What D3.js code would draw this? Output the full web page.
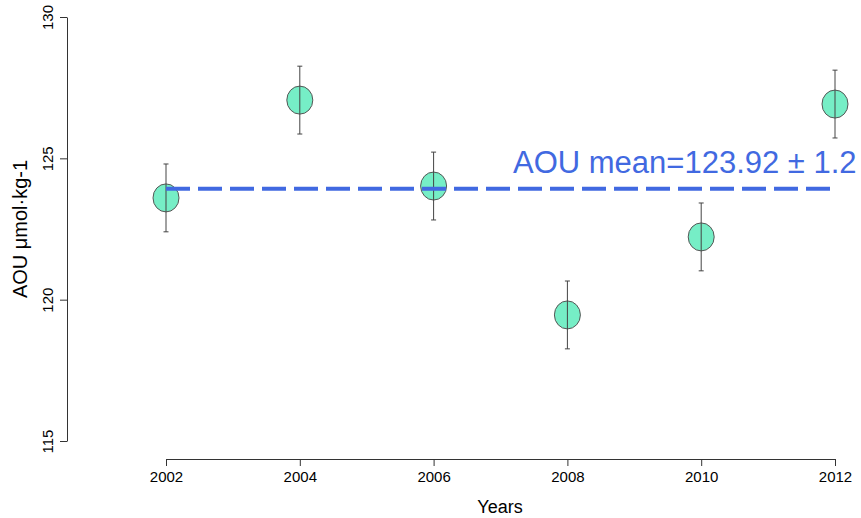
<!DOCTYPE html>
<html>
<head>
<meta charset="utf-8">
<script src="https://cdn.jsdelivr.net/npm/d3@7"></script>
<style>
  body { margin: 0; background: #fff; }
  svg { font-family: Arial, "Liberation Sans", sans-serif; }
</style>
</head>
<body>
<div id="chart"></div>
<script>
// values
var years = [2002, 2004, 2006, 2008, 2010, 2012];
var aou = [123.6, 127.06, 124.02, 119.46, 122.22, 126.92];
var aouErr = [1.2, 1.2, 1.2, 1.2, 1.2, 1.2];
var yTicks = [115, 120, 125, 130];
var meanAOU = 123.92,
	meanSD = 1.2;

var width = 861,
	height = 518,
	FILL = "#76EEC6",
	BLUE = "#4169E1",
	AXIS = "#333";

var svg = d3.select("#chart").append("svg")
	.attr("width", width)
	.attr("height", height);

var x = d3.scaleLinear().domain([2002, 2012]).range([166, 835]);
var y = d3.scaleLinear().domain([115, 130]).range([441, 17]);

// axes, R style: line only spans the ticks
var xAxis = svg.append("g")
	.attr("transform", "translate(0,459)")
	.call(d3.axisBottom(x).tickValues(years).tickFormat(d3.format("d")).tickSize(7).tickSizeOuter(0));

xAxis.selectAll("text")
	.attr("y", 12)
	.attr("dy", "0.71em")
	.style("font-size", "15px")
	.style("fill", "#000");

var yAxis = svg.append("g")
	.attr("transform", "translate(67,0)")
	.call(d3.axisLeft(y).tickValues(yTicks).tickSize(7).tickSizeOuter(0));

yAxis.selectAll("text")
	.attr("transform", "rotate(-90)")
	.attr("x", 0)
	.attr("y", -14)
	.attr("dy", 0)
	.style("text-anchor", "middle")
	.style("font-size", "15px")
	.style("fill", "#000");

svg.selectAll(".domain, .tick line").style("stroke", AXIS);

// axis titles
svg.append("text")
	.attr("x", 500)
	.attr("y", 513)
	.style("text-anchor", "middle")
	.style("font-size", "18px")
	.text("Years");

svg.append("text")
	.attr("transform", "translate(27," + ((17 + 441) / 2) + ") rotate(-90)")
	.style("text-anchor", "middle")
	.style("font-size", "20px")
	.text("AOU μmol·kg-1");

var pts = years.map(function(d, i) {
	return { year: d, v: aou[i], e: aouErr[i] };
});

// the dots
svg.append("g").selectAll("ellipse")
	.data(pts)
	.enter()
	.append("ellipse")
	.attr("cx", function(d) { return x(d.year); })
	.attr("cy", function(d) { return y(d.v); })
	.attr("rx", 13)
	.attr("ry", 14)
	.style("fill", FILL)
	.style("stroke", "#555")
	.style("stroke-width", 1);

// error bars with little caps
var bars = svg.append("g").selectAll("g")
	.data(pts)
	.enter()
	.append("g")
	.style("stroke", "#444")
	.style("stroke-width", 1);

bars.append("line")
	.attr("x1", function(d) { return x(d.year); })
	.attr("x2", function(d) { return x(d.year); })
	.attr("y1", function(d) { return y(d.v + d.e); })
	.attr("y2", function(d) { return y(d.v - d.e); });

[1, -1].forEach(function(s) {
	bars.append("line")
		.attr("x1", function(d) { return x(d.year) - 2.5; })
		.attr("x2", function(d) { return x(d.year) + 2.5; })
		.attr("y1", function(d) { return y(d.v + s * d.e); })
		.attr("y2", function(d) { return y(d.v + s * d.e); });
});

// mean line
svg.append("line")
	.attr("x1", x(years[0]))
	.attr("x2", x(years[years.length - 1]))
	.attr("y1", y(meanAOU))
	.attr("y2", y(meanAOU))
	.style("stroke", BLUE)
	.style("stroke-width", 4)
	.style("stroke-dasharray", "24,8");

svg.append("text")
	.attr("x", 513)
	.attr("y", 173)
	.style("font-size", "31px")
	.style("fill", BLUE)
	.text("AOU mean=" + meanAOU.toFixed(2) + " ± " + meanSD);
</script>
</body>
</html>
